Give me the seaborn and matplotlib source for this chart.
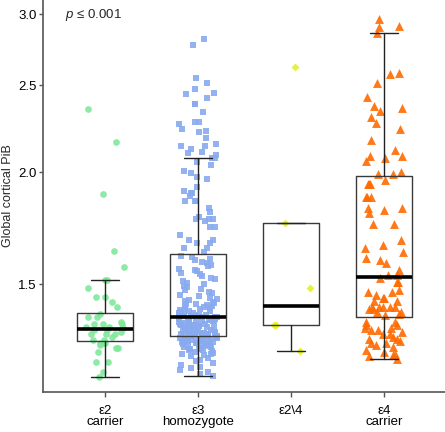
import numpy as np
import pandas as pd
import seaborn as sns
import matplotlib.pyplot as plt
from matplotlib.ticker import FixedLocator, FormatStrFormatter, NullLocator

# Categories (APOE genotype groups)
groups = ['ε2\ncarrier', 'ε3\nhomozygote', 'ε2\\4', 'ε4\ncarrier']

# Global cortical PiB values
e2_pib = [2.352, 2.162, 1.890, 1.634, 1.570, 1.517, 1.517, 1.485, 1.452, 1.452,
          1.433, 1.415, 1.390, 1.381, 1.381, 1.363, 1.354, 1.354, 1.354, 1.346,
          1.346, 1.342, 1.335, 1.335, 1.328, 1.320, 1.320, 1.320, 1.310, 1.300,
          1.300, 1.290, 1.290, 1.290, 1.285, 1.273, 1.273, 1.262, 1.230, 1.230,
          1.199, 1.184]

e3_pib = [2.812, 2.773, 2.544, 2.516, 2.473, 2.452, 2.444, 2.417, 2.382, 2.382,
          2.335, 2.275, 2.275, 2.261, 2.236, 2.224, 2.215, 2.185, 2.152, 2.139,
          2.139, 2.124, 2.108, 2.099, 2.090, 2.076, 2.076,
          2.054, 2.037, 2.008, 1.997, 1.974, 1.964, 1.927, 1.907, 1.895, 1.895,
          1.883, 1.859, 1.859, 1.859, 1.823, 1.807, 1.784, 1.772, 1.772, 1.772,
          1.766, 1.739, 1.739, 1.703, 1.681, 1.681, 1.667, 1.667, 1.645, 1.645,
          1.629,
          1.615, 1.607, 1.601, 1.596, 1.588, 1.583, 1.575, 1.571, 1.562, 1.557,
          1.551, 1.543, 1.541, 1.532, 1.524, 1.521, 1.513, 1.504, 1.502, 1.493,
          1.489, 1.482, 1.479, 1.471, 1.466, 1.461, 1.455,
          1.448, 1.446, 1.441, 1.436, 1.434, 1.431, 1.427, 1.426, 1.421, 1.419,
          1.417, 1.414, 1.412, 1.409, 1.408, 1.404, 1.402, 1.401, 1.398, 1.395,
          1.394, 1.391, 1.389, 1.388, 1.386, 1.385, 1.384, 1.383, 1.382, 1.381,
          1.380,
          1.378, 1.376, 1.376, 1.373, 1.371, 1.370, 1.368, 1.368, 1.365, 1.364,
          1.362, 1.361, 1.361, 1.358, 1.357, 1.355, 1.355, 1.353, 1.352, 1.350,
          1.349, 1.349, 1.347, 1.345, 1.344, 1.343, 1.341, 1.340, 1.340, 1.338,
          1.337, 1.335, 1.334, 1.334, 1.332, 1.331, 1.329, 1.328, 1.328, 1.326,
          1.325, 1.324, 1.322, 1.322, 1.321, 1.319, 1.318, 1.318, 1.317, 1.316,
          1.316, 1.315,
          1.313, 1.312, 1.310, 1.309, 1.307, 1.306, 1.305, 1.303, 1.302, 1.300,
          1.299, 1.297, 1.296, 1.294, 1.293, 1.291, 1.290, 1.288, 1.286, 1.285,
          1.283, 1.281, 1.280, 1.278, 1.276, 1.275, 1.272, 1.270, 1.269, 1.266,
          1.264, 1.261, 1.259, 1.256, 1.253, 1.251, 1.247, 1.243, 1.236, 1.231,
          1.225, 1.221, 1.214, 1.209, 1.203, 1.198, 1.192, 1.187]

e24_pib = [2.619, 1.756, 1.486, 1.352, 1.352, 1.264]

e4_pib = [2.960, 2.904, 2.910, 2.860, 2.581, 2.573, 2.512, 2.423, 2.370, 2.356,
          2.340, 2.302, 2.267, 2.233, 2.172, 2.117, 2.085, 2.085, 2.073, 2.060,
          2.003, 1.991, 1.991, 1.960, 1.940, 1.940, 1.940, 1.878, 1.878, 1.878,
          1.826, 1.826, 1.815, 1.800, 1.750, 1.750, 1.681, 1.659, 1.645, 1.629,
          1.606, 1.597, 1.583, 1.556, 1.537, 1.537, 1.523, 1.510, 1.510, 1.478,
          1.470, 1.470, 1.459, 1.447, 1.447, 1.437, 1.437, 1.417, 1.417, 1.417,
          1.417, 1.417, 1.408, 1.408, 1.398, 1.398, 1.389, 1.387, 1.363, 1.363,
          1.352, 1.352, 1.340, 1.340, 1.335, 1.335, 1.327, 1.320, 1.320, 1.310,
          1.304, 1.304, 1.296, 1.290, 1.290, 1.283, 1.278, 1.268, 1.262, 1.254,
          1.250, 1.247, 1.239]

# Box summaries (hinges and whisker ends)
whisker_low = [1.184, 1.187, 1.264, 1.239]
hinge_low = [1.297, 1.315, 1.352, 1.379]
medians = [1.338, 1.379, 1.419, 1.529]
hinge_high = [1.393, 1.621, 1.756, 1.981]
whisker_high = [1.517, 2.076, 1.756, 2.860]

yticks = [1.5, 2.0, 2.5, 3.0]

colors = ['#7EE89A', '#88AAEE', '#E4F21E', '#FF6B00']
markers = ['o', 's', 'D', '^']
sizes = [4.8, 4.5, 4.0, 6.4]

sns.set_style('ticks')
plt.rcParams['font.family'] = ['Liberation Sans', 'DejaVu Sans']
plt.rcParams['mathtext.fontset'] = 'custom'
plt.rcParams['mathtext.it'] = 'Liberation Sans:italic'
plt.rcParams['mathtext.rm'] = 'Liberation Sans'

all_vals = [e2_pib, e3_pib, e24_pib, e4_pib]
df = pd.DataFrame({
    'group': [g for g, v in zip(groups, all_vals) for _ in v],
    'pib': [x for v in all_vals for x in v],
})

fig = plt.figure(figsize=(4.45, 4.32), dpi=100)
ax = fig.add_axes([43 / 445, 1 - 392 / 432, 402 / 445, 392 / 432])

np.random.seed(7)
for g, c, m, s in zip(groups, colors, markers, sizes):
    sns.stripplot(data=df[df['group'] == g], x='group', y='pib', order=groups,
                  color=c, marker=m, size=s, jitter=0.21, linewidth=0,
                  alpha=0.9, log_scale=True, ax=ax, zorder=2)

stats = [dict(med=medians[i], q1=hinge_low[i], q3=hinge_high[i],
              whislo=whisker_low[i], whishi=whisker_high[i], fliers=[])
         for i in range(len(groups))]
ax.bxp(stats, positions=range(len(groups)), widths=0.6, capwidths=0.3,
       showfliers=False, manage_ticks=False, zorder=3,
       boxprops=dict(color='#3a3a3a', linewidth=1.0),
       medianprops=dict(color='black', linewidth=2.6),
       whiskerprops=dict(color='#222222', linewidth=1.0),
       capprops=dict(color='#222222', linewidth=1.0))

ax.set_yscale('log')
ax.set_xlim(-0.667, 3.656)
ax.set_ylim(1.138, 3.11)
ax.yaxis.set_major_locator(FixedLocator(yticks))
ax.yaxis.set_major_formatter(FormatStrFormatter('%.1f'))
ax.yaxis.set_minor_locator(NullLocator())
ax.set_xticks(range(len(groups)), groups)
for t in ax.get_xticklabels():
    t.set_linespacing(0.95)

ax.set_xlabel('')
ax.set_ylabel('Global cortical PiB', fontsize=9)
ax.yaxis.set_label_coords(-0.071, 0.5)

for side in ['top', 'right']:
    ax.spines[side].set_visible(False)
for side in ['left', 'bottom']:
    ax.spines[side].set_color('#555555')
    ax.spines[side].set_linewidth(1.2)
ax.tick_params(axis='y', length=3.2, width=1, color='#555555', pad=1.5,
               labelsize=9.5, labelcolor='black')
ax.tick_params(axis='x', length=3.6, width=1, color='#555555', pad=5.5,
               labelsize=9.5, labelcolor='black')

ax.text(0.055, 0.962, r'$p$ ≤ 0.001', transform=ax.transAxes,
        fontsize=9.5, va='center')

fig.savefig('out.png', dpi=100)
